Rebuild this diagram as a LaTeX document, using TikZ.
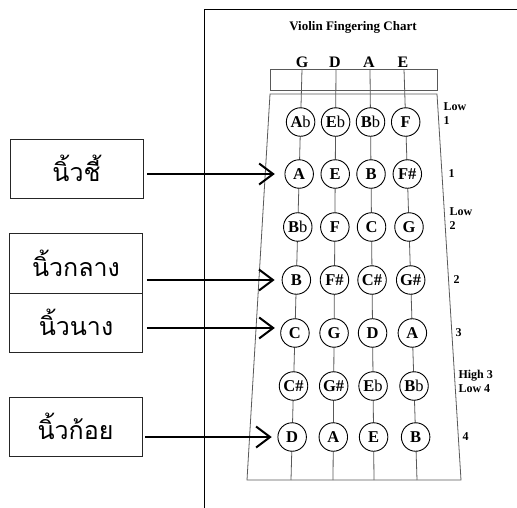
\documentclass[tikz,border=0pt]{standalone}
\usepackage{fontspec}
\setmainfont{Liberation Serif}
\newfontfamily\thaifont[Script=Thai]{Loma}
\usetikzlibrary{arrows.meta,calc}
\begin{document}
\begin{tikzpicture}[x=1pt,y=-1pt,
  note/.style={circle,draw=black,line width=0.9pt,fill=white,minimum size=28.5pt,inner sep=0pt,font=\bfseries\fontsize{16.5}{16.5}\selectfont},
  strlabel/.style={font=\bfseries\fontsize{16}{16}\selectfont},
  fretlabel/.style={anchor=west,align=left,font=\bfseries\fontsize{12}{14}\selectfont},
  thaibox/.style={draw=black!85,line width=0.9pt,minimum width=133pt,minimum height=59pt,inner sep=0pt,font=\thaifont\fontsize{25}{28}\selectfont},
  boardline/.style={draw=black!65,line width=0.8pt},
  pointer/.style={line width=2pt,-{Straight Barb[length=14pt,width=21pt,line width=2pt]}}
]
\useasboundingbox (0,0) rectangle (517,508);
% page frame
\draw[black,line width=0.8pt] (204,508) -- (204,9) -- (517,9);
\node[font=\bfseries\fontsize{13}{15}\selectfont] (title) at (353,27) {Violin Fingering Chart};
% fingerboard and nut
\draw[boardline] (270,94) -- (437,94) -- (461,480) -- (247,480) -- cycle;
\draw[boardline] (270,69) rectangle (437,90);
% strings
\coordinate (Gt) at (302,69); \coordinate (Gb) at (291,480);
\coordinate (Dt) at (336,69); \coordinate (Db) at (333,480);
\coordinate (At) at (370,69); \coordinate (Ab) at (374,480);
\coordinate (Et) at (404,69); \coordinate (Eb) at (417,480);
\foreach \s in {G,D,A,E} \draw[boardline] (\s t) -- (\s b);
\node[strlabel] (lG) at (302,62) {G};
\node[strlabel] (lD) at (335,62) {D};
\node[strlabel] (lA) at (369,62) {A};
\node[strlabel] (lE) at (403,62) {E};
% notes
\newcommand{\fl}{{\mdseries b}}
\foreach \r/\f/\a/\b/\c/\d in {
  1/0.129/A\fl/E\fl/B\fl/F,
  2/0.2555/A/E/B/F\#,
  3/0.3844/B\fl/F/C/G,
  4/0.5134/B/F\#/C\#/G\#,
  5/0.6423/C/G/D/A,
  6/0.7713/C\#/G\#/E\fl/B\fl,
  7/0.8954/D/A/E/B}{
  \node[note] (n\r1) at ($(Gt)!\f!(Gb)$) {\a};
  \node[note] (n\r2) at ($(Dt)!\f!(Db)$) {\b};
  \node[note] (n\r3) at ($(At)!\f!(Ab)$) {\c};
  \node[note] (n\r4) at ($(Et)!\f!(Eb)$) {\d};
}
% fret labels
\node[fretlabel] (f1) at (440,114) {Low\\1};
\node[fretlabel] (f2) at (445,174) {1};
\node[fretlabel] (f3) at (446,219) {Low\\2};
\node[fretlabel] (f4) at (450,280) {2};
\node[fretlabel] (f5) at (452,333) {3};
\node[fretlabel] (f6) at (455,381) {High 3\\Low 4};
\node[fretlabel] (f7) at (459,437) {4};
% finger boxes
\node[thaibox] (b1) at (76.5,168.5) {นิ้วชี้};
\node[thaibox,minimum height=60pt] (b2) at (76,263) {นิ้วกลาง};
\node[thaibox] (b3) at (76,322.5) {นิ้วนาง};
\node[thaibox] (b4) at (75.5,426.5) {นิ้วก้อย};
% arrows
\draw[pointer,shorten <=4pt,shorten >=9.7pt] (b1.east |- n21) -- (n21.west);
\draw[pointer,shorten <=4pt,shorten >=7pt] (b2.east |- n41) -- (n41.west);
\coordinate (t5) at ($(n51.west)+(0,-5)$);
\draw[pointer,shorten <=4pt,shorten >=5.4pt] (b3.east |- t5) -- (t5);
\draw[pointer,shorten <=3pt,shorten >=5.7pt] (b4.east |- n71) -- (n71.west);
\end{tikzpicture}
\end{document}
